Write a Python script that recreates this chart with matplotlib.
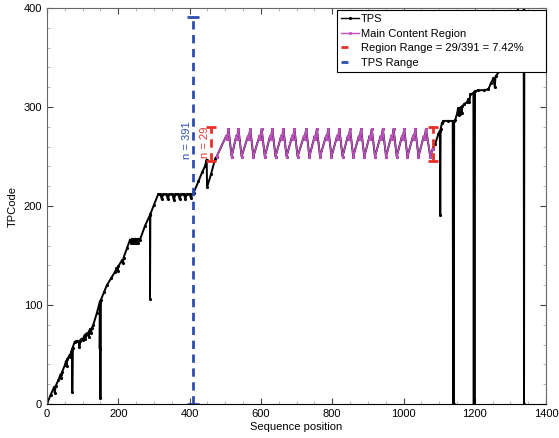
import matplotlib
matplotlib.use("Agg")
import matplotlib.pyplot as plt
from matplotlib.lines import Line2D
from matplotlib.ticker import MultipleLocator

plt.rcParams['font.family'] = ['Liberation Sans', 'DejaVu Sans']

# TPS series: left part, up to where the main region starts
left_x = [0, 10, 20, 22, 24, 32, 38, 40, 42, 50, 53, 55, 57, 64, 66, 68, 71, 71, 72, 78,
          85, 90, 91, 92, 97, 100, 106, 108, 110, 115, 117, 119, 122, 124, 126, 130, 140,
          148, 148, 149, 150, 151,
          160, 168, 180, 190, 195, 198, 200, 210, 213, 215, 225, 233, 236, 238, 241, 243,
          246, 248, 251, 253, 256, 258, 261, 275, 289, 289, 290, 300, 312,
          318, 322, 326, 335, 339, 343, 352, 356, 360, 368, 372, 376, 384, 388, 392, 400,
          404, 408, 411,
          425, 435, 443, 448, 449, 460, 472, 476]
left_y = [0, 9, 17, 11, 18, 24, 30, 26, 32, 39, 43, 38, 45, 50, 47, 53, 56, 12, 57, 63,
          64, 62, 58, 64, 66, 65, 70, 66, 71, 72, 68, 74, 76, 72, 77, 80, 92,
          103, 56, 104, 6, 105,
          113, 120, 127, 133, 137, 134, 139, 145, 142, 148, 158, 166, 163, 167, 163, 167,
          163, 167, 163, 167, 163, 167, 166, 180, 191, 106, 192, 201, 212,
          212, 207, 212, 212, 207, 212, 212, 206, 212, 212, 207, 212, 212, 207, 212, 212,
          208, 212, 213,
          225, 234, 240, 247, 219, 232, 248, 250]

# main content region (sawtooth), peaks and troughs
main_x = [476, 503, 505, 509, 518, 531, 533, 537, 546, 564, 566, 570, 579, 596, 598, 602,
          611, 626, 628, 632, 641, 657, 659, 663, 672, 688, 690, 694, 703, 721, 723, 727,
          736, 751, 753, 757, 766, 783, 785, 789, 798, 814, 816, 820, 829, 844, 846, 850,
          859, 875, 877, 881, 890, 905, 907, 911, 920, 936, 938, 942, 951, 966, 968, 972,
          981, 996, 998, 1002, 1011, 1027, 1029, 1033, 1042, 1057, 1059, 1063, 1075, 1082]
main_y = [250, 271, 268, 278, 250, 271, 268, 278, 250, 271, 268, 278, 250, 271, 268, 278,
          250, 271, 268, 278, 250, 271, 268, 278, 250, 271, 268, 278, 250, 271, 268, 278,
          250, 271, 268, 278, 250, 271, 268, 278, 250, 271, 268, 278, 250, 271, 268, 278,
          250, 271, 268, 278, 250, 271, 268, 278, 250, 271, 268, 278, 250, 271, 268, 278,
          250, 271, 268, 278, 250, 271, 268, 278, 250, 271, 268, 278, 250, 258]

# TPS series after the main region
right_x = [1089, 1098, 1102, 1103, 1104, 1108, 1112, 1125, 1138, 1139, 1140, 1141, 1142,
           1145, 1150, 1153, 1155, 1157, 1159, 1161, 1163, 1165, 1170, 1178, 1182, 1185,
           1187, 1196, 1197, 1198, 1199, 1200, 1210, 1225, 1238, 1245, 1252, 1256, 1258,
           1271, 1290, 1310, 1330, 1337, 1338, 1339, 1400]
right_y = [263, 273, 276, 191, 278, 284, 286, 286, 286, 0, 286, 0, 286,
           287, 293, 299, 292, 299, 293, 300, 294, 301, 303, 305, 308, 305,
           313, 314, 0, 315, 0, 316, 317, 317, 318, 324, 329, 320, 331,
           337, 360, 385, 410, 420, 0, 425, 470]

tps_x = left_x + main_x + right_x
tps_y = left_y + main_y + right_y

# range markers
tps_range_x = 410
tps_range = [0, 391]
region_x = [459, 1083]
region_lo = [246, 245]
region_hi = [280, 280]

blue = '#2f4db0'
red = '#e8302a'
magenta = '#c050c0'

fig = plt.figure(figsize=(5.59, 4.38), dpi=100)
ax = fig.add_axes([0.084, 0.0776, 0.893, 0.904])

ax.plot(tps_x, tps_y, color='black', lw=1.4, marker='.', ms=2.5)
ax.plot(main_x, main_y, color=magenta, lw=1.1, marker='.', ms=2.5)

ax.plot([tps_range_x, tps_range_x], tps_range, color=blue, lw=2, ls=(0, (3, 2)))
ax.plot([tps_range_x, tps_range_x], tps_range, color=blue, ls='none',
        marker='_', ms=9, mew=2)
for xr, lo, hi in zip(region_x, region_lo, region_hi):
    ax.plot([xr, xr], [lo, hi], color=red, lw=2, ls=(0, (3, 2)))
    ax.plot([xr, xr], [lo, hi], color=red, ls='none', marker='_', ms=7, mew=2)

ax.text(393, 267, 'n = 391', color=blue, rotation=90, fontsize=8,
        ha='center', va='center')
ax.text(443, 264, 'n = 29', color=red, rotation=90, fontsize=8,
        ha='center', va='center')

ax.set_xlim(0, 1400)
ax.set_ylim(0, 400)
ax.set_xticks(range(0, 1401, 200))
ax.set_yticks(range(0, 401, 100))
ax.xaxis.set_minor_locator(MultipleLocator(50))
ax.yaxis.set_minor_locator(MultipleLocator(20))
ax.tick_params(which='both', direction='in', top=True, right=True, labelsize=8,
               color='#444444')
ax.tick_params(which='major', length=4, width=0.8)
ax.tick_params(which='minor', length=2, width=0.5, color='#999999')
for side in ['left', 'top', 'right']:
    ax.spines[side].set_color('#666666')
ax.spines['bottom'].set_color('black')

ax.set_xlabel('Sequence position', fontsize=8, labelpad=2)
ax.set_ylabel('TPCode', fontsize=8, labelpad=4)

handles = [
    Line2D([], [], color='black', lw=1, marker='.', ms=2.5),
    Line2D([], [], color=magenta, lw=1, marker='.', ms=2.5),
    Line2D([], [], color=red, lw=2, ls=(0, (2.5, 30))),
    Line2D([], [], color=blue, lw=2, ls=(0, (2.5, 30))),
]
labels = ['TPS', 'Main Content Region', 'Region Range = 29/391 = 7.42%', 'TPS Range']
leg = ax.legend(handles, labels, loc='upper left', bbox_to_anchor=(0.581, 0.5, 0.419, 0.495),
                mode='expand', fontsize=8, handlelength=1.6, handletextpad=0.2,
                labelspacing=0.42, borderpad=0.35, borderaxespad=0, fancybox=False,
                framealpha=1, edgecolor='black')
leg.get_frame().set_linewidth(0.8)

fig.savefig('out.png', dpi=100)
